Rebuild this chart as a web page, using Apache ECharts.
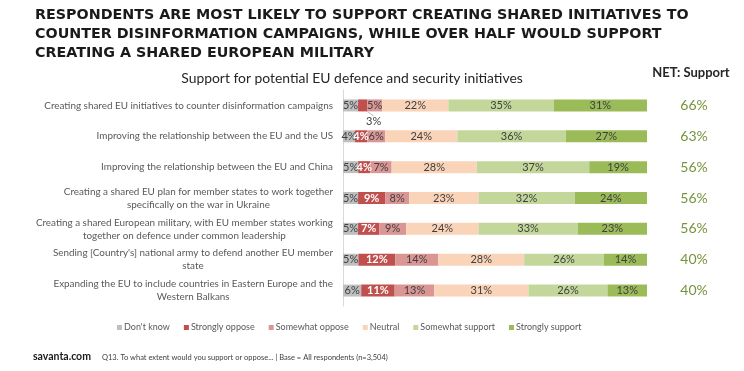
<!DOCTYPE html>
<html><head><meta charset="utf-8">
<script src="https://cdn.jsdelivr.net/npm/echarts@6/dist/echarts.min.js"></script>
<style>html,body{margin:0;padding:0;background:#fff}#c{width:744px;height:371px}</style>
</head><body><div id="c"></div>
<script>
const categories = [
  "Creating shared EU initiatives to counter disinformation campaigns",
  "Improving the relationship between the EU and the US",
  "Improving the relationship between the EU and China",
  "Creating a shared EU plan for member states to work together\nspecifically on the war in Ukraine",
  "Creating a shared European military, with EU member states working\ntogether on defence under common leadership",
  "Sending [Country's] national army to defend another EU member\nstate",
  "Expanding the EU to include countries in Eastern Europe and the\nWestern Balkans"
];
const seriesNames = ["Don't know","Strongly oppose","Somewhat oppose","Neutral","Somewhat support","Strongly support"];
const dontKnow        = [5, 4, 5, 5, 5, 5, 6];
const stronglyOppose  = [3, 4, 4, 9, 7, 12, 11];
const somewhatOppose  = [5, 6, 7, 8, 9, 14, 13];
const neutral         = [22, 24, 28, 23, 24, 28, 31];
const somewhatSupport = [35, 36, 37, 32, 33, 26, 26];
const stronglySupport = [31, 27, 19, 24, 23, 14, 13];
const netSupport      = [66, 63, 56, 56, 56, 40, 40];

const values = [dontKnow, stronglyOppose, somewhatOppose, neutral, somewhatSupport, stronglySupport];
const colors = ['#BFBFBF','#C0504D','#D99694','#FAD4B9','#C4D79B','#9BBB59'];
const rowSums = categories.map((_, i) => values.reduce((s, arr) => s + arr[i], 0));

const FONT = 'Lato, "Open Sans", sans-serif';

const series = values.map((arr, si) => ({
  name: seriesNames[si],
  type: 'bar',
  stack: 'total',
  barWidth: 12,
  itemStyle: { color: colors[si] },
  label: {
    show: true,
    position: 'inside',
    fontFamily: FONT,
    fontSize: 11,
    color: si === 1 ? '#ffffff' : '#404040',
    fontWeight: si === 1 ? 'bold' : 'normal',
    formatter: p => arr[p.dataIndex] + '%'
  },
  labelLine: { show: true, lineStyle: { color: '#bfbfbf', width: 1 } },
  labelLayout: (si === 1) ? function (params) {
    if (params.dataIndex === 0) {
      return { x: params.rect.x + params.rect.width - 1, y: params.rect.y + params.rect.height + 10, align: 'left', verticalAlign: 'middle' };
    }
    return {};
  } : undefined,
  data: arr.map((v, i) => {
    const item = { value: v / rowSums[i] * 100 };
    if (si === 1 && i === 0) {
      item.label = { color: '#404040', fontWeight: 'normal' };
    }
    return item;
  })
}));

const chart = echarts.init(document.getElementById('c'));
chart.setOption({
  animation: false,
  title: [
    { text: 'RESPONDENTS ARE MOST LIKELY TO SUPPORT CREATING SHARED INITIATIVES TO\nCOUNTER DISINFORMATION CAMPAIGNS, WHILE OVER HALF WOULD SUPPORT\nCREATING A SHARED EUROPEAN MILITARY',
      left: 30, top: 1,
      textStyle: { fontFamily: '"DejaVu Sans", sans-serif', fontWeight: 'bold', fontSize: 14.3, lineHeight: 19, color: '#1a1a1a' } },
    { text: 'Support for potential EU defence and security initiatives', left: 347, top: 67, textAlign: 'center',
      textStyle: { fontFamily: FONT, fontWeight: 'normal', fontSize: 13.9, color: '#262626' } },
    { text: 'NET: Support', left: 686, top: 61, textAlign: 'center',
      textStyle: { fontFamily: FONT, fontWeight: 'bold', fontSize: 13, color: '#262626' } },
    { text: 'savanta.com', left: 28, top: 346,
      textStyle: { fontFamily: FONT, fontWeight: 'bold', fontSize: 10.5, color: '#1a1a1a' } },
    { text: 'Q13. To what extent would you support or oppose... | Base = All respondents (n=3,504)', left: 97, top: 349,
      textStyle: { fontFamily: FONT, fontWeight: 'normal', fontSize: 7.5, color: '#404040' } }
  ],
  legend: {
    data: seriesNames, left: 112, top: 318, itemWidth: 5, itemHeight: 5, itemGap: 14, icon: 'rect',
    textStyle: { fontFamily: FONT, fontSize: 9, color: '#595959', padding: [0, 0, 0, -3] }
  },
  grid: { left: 343, right: 97, top: 90, height: 216, containLabel: false },
  xAxis: { type: 'value', min: 0, max: 100, show: false },
  yAxis: [
    { type: 'category', inverse: true, data: categories,
      axisLine: { show: true, lineStyle: { color: '#d9d9d9' } }, axisTick: { show: false },
      axisLabel: { margin: 10, fontFamily: FONT,
        formatter: v => v.split('\n').map(s => '{c|' + s + '}').join('\n'),
        rich: { c: { align: 'center', fontFamily: FONT, fontSize: 9.9, lineHeight: 13, color: '#595959' } } } },
    { type: 'category', inverse: true, position: 'right', data: netSupport.map(v => v + '%'),
      axisLine: { show: false }, axisTick: { show: false },
      axisLabel: { margin: 47, align: 'center', fontFamily: FONT, fontSize: 14, color: '#77933C' } }
  ],
  series: series
});
</script></body></html>
